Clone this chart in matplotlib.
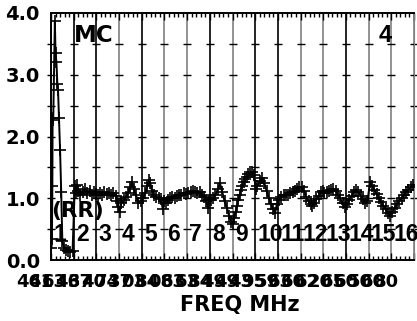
import numpy as np
import matplotlib
matplotlib.use("Agg")
import matplotlib.pyplot as plt
from matplotlib.ticker import MultipleLocator

# measured VSWR trace, x in band units (band k spans k-1..k)
b_x = [0.02, 0.04, 0.06, 0.07, 0.10, 0.17, 0.20, 0.24, 0.28, 0.31, 0.35, 0.40, 0.45, 0.50,
       0.58, 0.66, 0.75, 0.85, 0.95,
       1.05, 1.10, 1.15, 1.20, 1.30, 1.40, 1.50, 1.60, 1.70, 1.80, 1.90, 1.97,
       2.05, 2.15, 2.25, 2.35, 2.45, 2.55, 2.65, 2.75, 2.85, 2.92, 2.97,
       3.02, 3.10, 3.20, 3.30, 3.40, 3.50, 3.57, 3.65, 3.75, 3.85, 3.95,
       4.05, 4.15, 4.25, 4.33, 4.38, 4.45, 4.55, 4.65, 4.75, 4.85, 4.93, 4.98,
       5.05, 5.15, 5.25, 5.35, 5.45, 5.55, 5.65, 5.75, 5.85, 5.95,
       6.05, 6.15, 6.25, 6.35, 6.45, 6.55, 6.65, 6.75, 6.85, 6.92, 6.98,
       7.05, 7.15, 7.25, 7.35, 7.45, 7.55, 7.65, 7.75, 7.85, 7.95,
       8.02, 8.08, 8.14, 8.20, 8.26, 8.32, 8.38, 8.44, 8.50, 8.56, 8.62, 8.70, 8.78, 8.86, 8.94,
       9.03, 9.10, 9.20, 9.30, 9.40, 9.50, 9.60, 9.70, 9.80, 9.88, 9.95,
       10.05, 10.15, 10.25, 10.35, 10.45, 10.55, 10.65, 10.75, 10.85, 10.95,
       11.05, 11.15, 11.25, 11.35, 11.45, 11.52, 11.60, 11.70, 11.80, 11.90, 11.97,
       12.05, 12.15, 12.25, 12.35, 12.45, 12.55, 12.65, 12.75, 12.85, 12.95,
       13.05, 13.15, 13.25, 13.35, 13.45, 13.55, 13.65, 13.75, 13.85, 13.95,
       14.06, 14.15, 14.25, 14.35, 14.45, 14.55, 14.65, 14.75, 14.85, 14.94,
       15.05, 15.15, 15.25, 15.35, 15.45, 15.55, 15.65, 15.75, 15.85, 15.95]
b_y = [0.20, 0.34, 1.20, 2.27, 2.30, 3.87, 3.35, 3.20, 2.85, 2.75, 2.30, 1.78, 1.10, 0.30,
       0.20, 0.16, 0.14, 0.13, 0.15,
       1.20, 1.08, 1.22, 1.12, 1.05, 1.10, 1.15, 1.08, 1.12, 1.05, 1.10, 1.07,
       1.06, 1.08, 1.05, 1.10, 1.07, 1.09, 1.06, 1.08, 1.04, 0.95, 0.86,
       0.78, 0.92, 0.97, 1.02, 1.08, 1.18, 1.26, 1.15, 1.05, 0.92, 0.95,
       1.00, 1.08, 1.20, 1.30, 1.24, 1.12, 1.05, 1.02, 1.00, 0.98, 0.82, 0.95,
       0.93, 0.97, 1.00, 1.02, 1.00, 1.04, 1.06, 1.05, 1.08, 1.07,
       1.08, 1.10, 1.12, 1.10, 1.08, 1.10, 1.06, 1.02, 0.95, 0.84, 0.97,
       0.97, 1.00, 1.05, 1.15, 1.24, 1.10, 0.95, 0.85, 0.72, 0.62,
       0.58, 0.68, 0.78, 0.88, 0.97, 1.06, 1.14, 1.20, 1.26, 1.31, 1.35, 1.39, 1.43, 1.42, 1.38,
       1.15, 1.20, 1.28, 1.32, 1.25, 1.12, 1.00, 0.90, 0.82, 0.76, 0.90,
       0.97, 1.02, 1.05, 1.06, 1.05, 1.08, 1.10, 1.12, 1.15, 1.18,
       1.18, 1.12, 1.02, 0.95, 0.90, 0.87, 0.92, 0.98, 1.04, 1.10, 1.12,
       1.08, 1.10, 1.12, 1.14, 1.15, 1.12, 1.06, 1.00, 0.92, 0.86,
       0.90, 0.97, 1.04, 1.10, 1.13, 1.10, 1.04, 0.98, 0.92, 0.95,
       1.26, 1.20, 1.14, 1.07, 1.00, 0.94, 0.88, 0.82, 0.76, 0.72,
       0.78, 0.85, 0.90, 0.96, 1.00, 1.05, 1.10, 1.14, 1.18, 1.22]

band_names = [str(i) for i in range(1, 17)]
line_colors = ['k', 'k', 'k', '0.5', 'k', '0.5', '0.5', 'k', '0.5', 'k', 'k',
               '0.5', '0.5', 'k', '0.5', '0.5', '0.5']
freq_labels = ["46", "41", "63", "46", "37", "40", "74", "37", "03", "84", "08",
               "63", "63", "84", "49", "49", "43", "95", "59", "63", "60", "62",
               "20", "65", "60", "50", "60", "80"]

fig = plt.figure(figsize=(4.17, 3.21), dpi=100)
ax = fig.add_axes([51/417, 61/321, 363/417, 247/321])
ax.set_xlim(0, 16)
ax.set_ylim(0, 4)

# band divider lines and cross marks
for i, c in enumerate(line_colors):
    ax.axvline(i, color=c, lw=1.2, zorder=1)
    ax.plot([i]*7, np.arange(0.5, 4.0, 0.5), ls='none', marker='_', ms=6,
            mew=1.0, color='k', zorder=1, clip_on=False)

ax.plot(b_x, b_y, color='k', lw=1.4, marker='+', ms=8, mew=1.2, zorder=3)

for s in ['left', 'bottom', 'top']:
    ax.spines[s].set_color('k')
    ax.spines[s].set_linewidth(1.4)
ax.spines['right'].set_color('0.5')

ax.xaxis.set_major_locator(MultipleLocator(1))
ax.xaxis.set_minor_locator(MultipleLocator(0.2))
ax.tick_params(axis='x', which='major', direction='in', length=5, top=True, width=1)
ax.tick_params(axis='x', which='minor', direction='in', length=3, top=True, width=1)
ax.set_xticklabels([])
ax.set_yticks([0, 1, 2, 3, 4])
ax.set_yticklabels(['0.0', '1.0', '2.0', '3.0', '4.0'], fontfamily='DejaVu Sans',
                   fontweight='bold', fontsize=14)
ax.tick_params(axis='y', length=0, pad=8)

for i, n in enumerate(band_names):
    ax.text(i + 0.1, 0.42, n, fontfamily='Liberation Sans', fontweight='bold',
            fontsize=16.5, va='center', ha='left', clip_on=False, zorder=4)

ax.text(0.02, 0.8, '(RR)', fontfamily='DejaVu Sans', fontweight='bold',
        fontsize=15.5, va='center', ha='left', zorder=4)
ax.text(1.0, 3.63, 'MC', fontfamily='DejaVu Sans', fontweight='bold',
        fontsize=16.5, va='center', ha='left')
ax.text(14.45, 3.63, '4', fontfamily='Liberation Sans', fontweight='bold',
        fontsize=17, va='center', ha='left')

# overlapping band-edge frequency labels
fpos = np.concatenate([[-1.0], np.linspace(-0.45, 14.8, len(freq_labels) - 1)])
for p, lab in zip(fpos, freq_labels):
    ax.text(p, -0.089, lab, transform=ax.get_xaxis_transform(), ha='center',
            va='center', fontfamily='DejaVu Sans', fontweight='bold', fontsize=13,
            clip_on=False)

ax.text(0.52, -0.182, 'FREQ MHz', transform=ax.transAxes, ha='center', va='center',
        fontfamily='DejaVu Sans', fontweight='bold', fontsize=15)

fig.savefig('out.png', dpi=100)
